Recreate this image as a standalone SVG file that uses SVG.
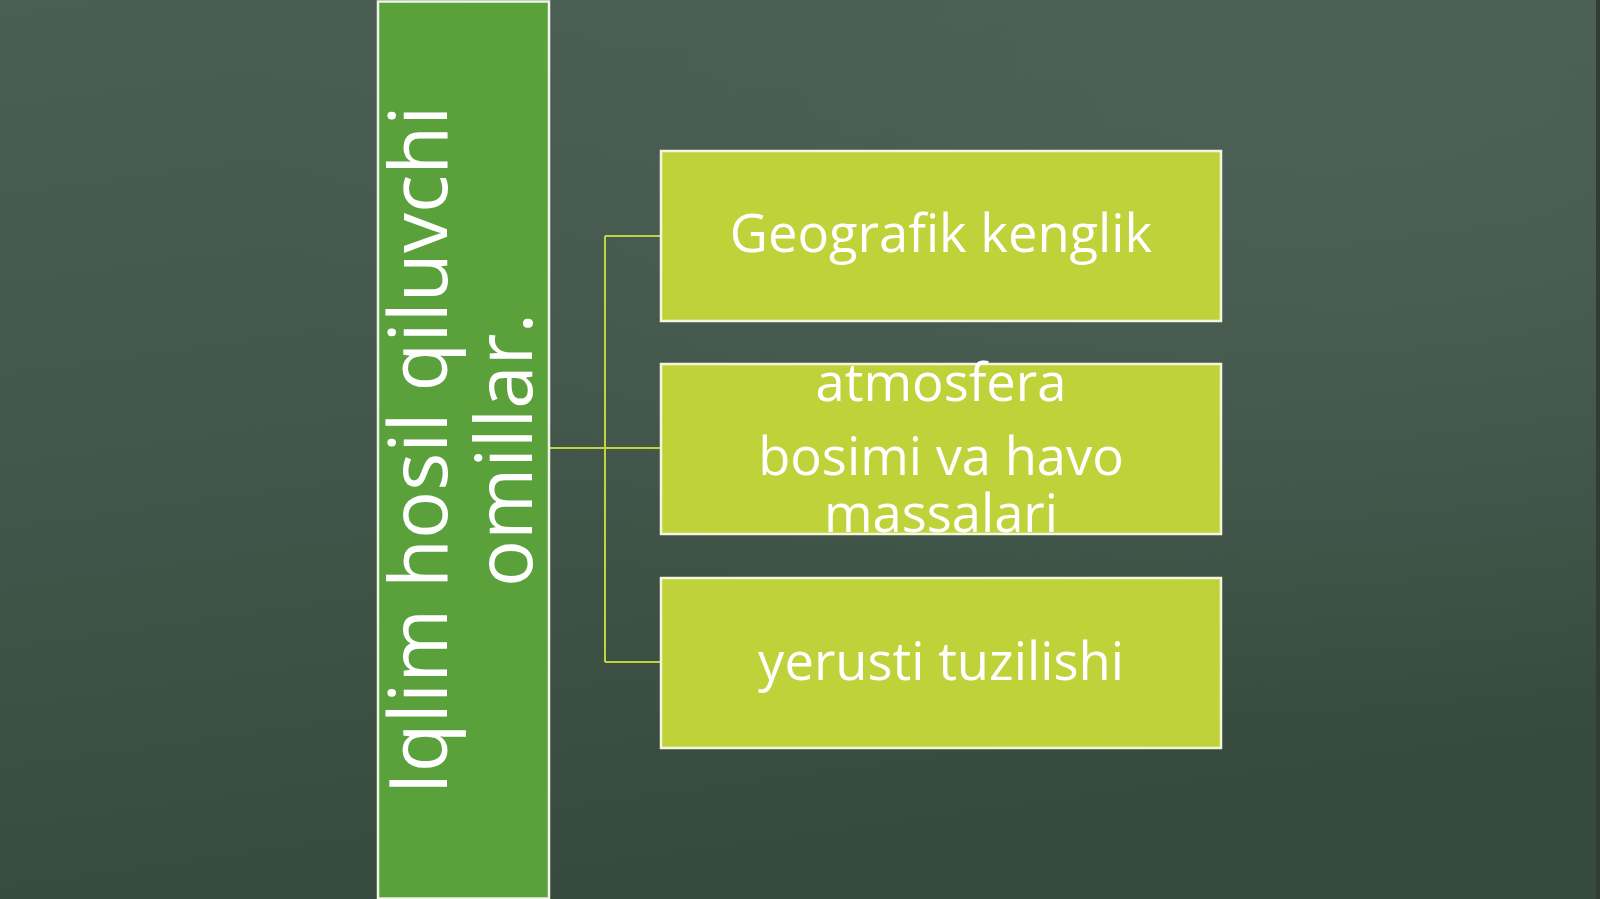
<svg xmlns="http://www.w3.org/2000/svg" width="1600" height="899" viewBox="0 0 1600 899">
  <defs>
    <linearGradient id="bg" x1="0" y1="0" x2="0.25" y2="1">
      <stop offset="0" stop-color="#4a5e54"/>
      <stop offset="0.5" stop-color="#43564b"/>
      <stop offset="1" stop-color="#364a3d"/>
    </linearGradient>
    <radialGradient id="glow" cx="0.85" cy="0.1" r="0.7">
      <stop offset="0" stop-color="#51645b" stop-opacity="0.7"/>
      <stop offset="1" stop-color="#51645b" stop-opacity="0"/>
    </radialGradient>
    <style>
      .box { fill: #c0d23a; stroke: #f4f6dc; stroke-width: 2.5; }
      .bar { fill: #5aa13b; stroke: #eef5e6; stroke-width: 2.5; }
      .lbl { font-family: "Open Sans", "Noto Sans", "DejaVu Sans", sans-serif; fill: #ffffff; font-size: 52.5px; text-anchor: middle; }
      .vlbl { font-family: "Open Sans", "Noto Sans", "DejaVu Sans", sans-serif; fill: #ffffff; text-anchor: middle; }
      .conn { fill: none; stroke: #bfd43e; stroke-width: 2; }
    </style>
  </defs>
  <rect x="0" y="0" width="1600" height="899" fill="url(#bg)"/>
  <rect x="0" y="0" width="1600" height="899" fill="url(#glow)"/>
  <rect x="1596" y="0" width="4" height="899" fill="#2f3d35"/>

  <g id="connectors">
    <path class="conn" d="M549,448 H660"/>
    <path class="conn" d="M605,236 V662"/>
    <path class="conn" d="M605,236 H660"/>
    <path class="conn" d="M605,662 H660"/>
  </g>

  <g id="root">
    <rect class="bar" x="378" y="1.5" width="171" height="897"/>
    <g transform="translate(447,450) rotate(-90)">
      <text class="vlbl" x="0" y="0" font-size="80">Iqlim hosil qiluvchi</text>
      <text class="vlbl" x="0" y="85" font-size="78">omillar.</text>
    </g>
  </g>

  <g id="node1">
    <rect class="box" x="661" y="151" width="560" height="170"/>
    <text class="lbl" x="941" y="252">Geografik kenglik</text>
  </g>

  <g id="node2">
    <rect class="box" x="661" y="364" width="560" height="170"/>
    <text class="lbl" x="941" y="401">atmosfera</text>
    <text class="lbl" x="941" y="475">bosimi va havo</text>
    <text class="lbl" x="941" y="532">massalari</text>
  </g>

  <g id="node3">
    <rect class="box" x="661" y="578" width="560" height="170"/>
    <text class="lbl" x="941" y="680">yerusti tuzilishi</text>
  </g>
</svg>
